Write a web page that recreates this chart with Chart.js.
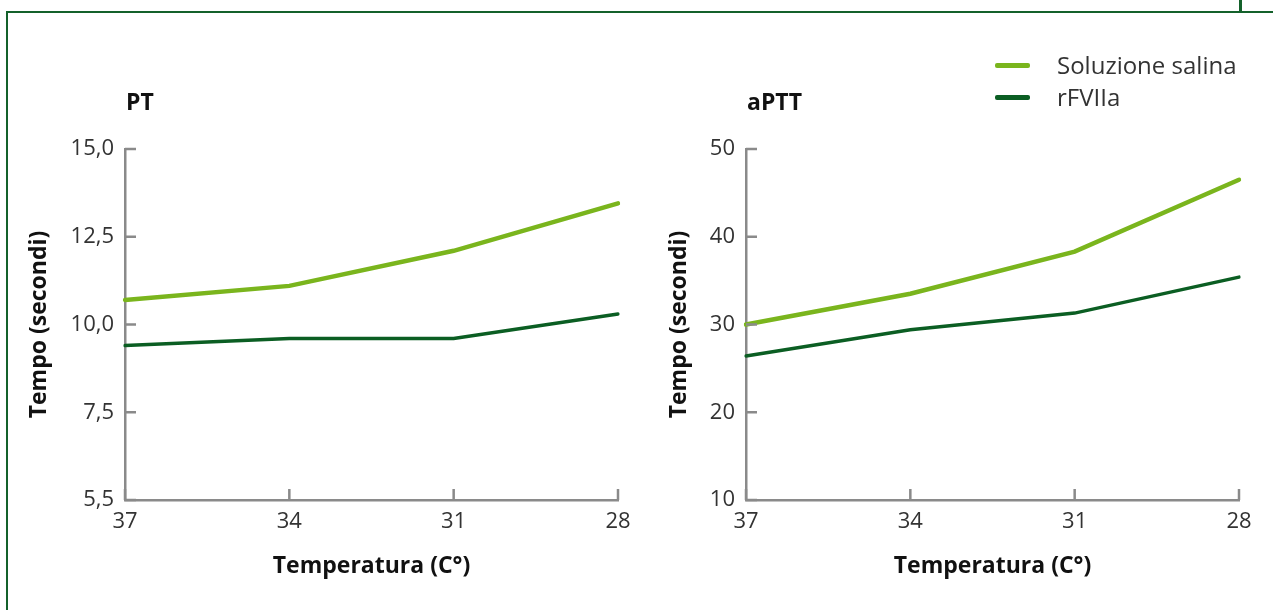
<!DOCTYPE html>
<html>
<head>
<meta charset="utf-8">
<script src="https://cdn.jsdelivr.net/npm/chart.js@4.4.1/dist/chart.umd.min.js"></script>
<style>
  html, body { margin: 0; padding: 0; background: #fff; }
  body { width: 1273px; height: 610px; position: relative; overflow: hidden; font-family: "Open Sans", sans-serif; }
  #frame { position: absolute; left: 6px; top: 11px; width: 1300px; height: 700px; border-left: 2px solid #14612b; border-top: 2px solid #14612b; }
  #tab { position: absolute; left: 1239px; top: 0; width: 3px; height: 13px; background: #14612b; }
  #c1wrap { position: absolute; left: 0; top: 0; width: 640px; height: 610px; }
  #c2wrap { position: absolute; left: 640px; top: 0; width: 633px; height: 610px; }
  #legend { position: absolute; left: 995px; top: 48px; }
  .item { position: relative; height: 32px; }
  .swatch { position: absolute; left: 0; top: 15px; width: 35px; height: 5px; border-radius: 2px; }
  .lbl { position: absolute; left: 62px; top: -1px; font-size: 24px; color: #333; white-space: nowrap; line-height: 36px; }
</style>
</head>
<body>
<div id="frame"></div>
<div id="tab"></div>
<div id="c1wrap"><canvas id="c1"></canvas></div>
<div id="c2wrap"><canvas id="c2"></canvas></div>
<div id="legend"></div>
<script>
const categories = ["37", "34", "31", "28"];
const seriesNames = ["Soluzione salina", "rFVIIa"];
const seriesColors = ["#7ab51d", "#0b5e23"];
const ptSaline = [10.7, 11.1, 12.1, 13.45];
const ptRfviia = [9.4, 9.6, 9.6, 10.3];
const apttSaline = [30, 33.5, 38.3, 46.5];
const apttRfviia = [26.4, 29.4, 31.3, 35.4];
const ptTicks = [5, 7.5, 10, 12.5, 15];
const ptTickLabels = ["5,5", "7,5", "10,0", "12,5", "15,0"];
const apttTicks = [10, 20, 30, 40, 50];
const apttTickLabels = ["10", "20", "30", "40", "50"];
const panelTitles = ["PT", "aPTT"];
const xTitle = "Temperatura (C°)";
const yTitle = "Tempo (secondi)";

const AXIS = "#8a8a8a";
const FONT = "'Open Sans', sans-serif";

// legend
const lg = document.getElementById('legend');
seriesNames.forEach((n, i) => {
  const d = document.createElement('div'); d.className = 'item';
  d.innerHTML = '<div class="swatch" style="background:' + seriesColors[i] + '"></div><div class="lbl">' + n + '</div>';
  lg.appendChild(d);
});

const innerTicks = {
  id: 'innerTicks',
  afterDraw(chart, args, opts) {
    const ctx = chart.ctx;
    const x = chart.scales.x, y = chart.scales.y;
    const a = chart.chartArea;
    ctx.save();
    ctx.strokeStyle = AXIS;
    ctx.lineWidth = 2.5;
    ctx.beginPath();
    y.ticks.forEach(t => {
      const py = y.getPixelForValue(t.value);
      ctx.moveTo(a.left, py); ctx.lineTo(a.left + 11, py);
    });
    x.ticks.forEach((t, i) => {
      const px = x.getPixelForValue(i);
      ctx.moveTo(px, a.bottom); ctx.lineTo(px, a.bottom - 11);
    });
    ctx.stroke();
    // panel title
    ctx.fillStyle = "#111";
    ctx.font = "bold 23px " + FONT;
    ctx.textBaseline = "middle";
    ctx.textAlign = "left";
    ctx.fillText(opts.text, a.left + 1, 103);
    ctx.restore();
  }
};

function makeChart(id, title, s1, s2, ticks, tickLabels, min, max, yWidth, padRight) {
  return new Chart(document.getElementById(id), {
    type: 'line',
    data: {
      labels: categories,
      datasets: [
        { label: seriesNames[0], data: s1, borderColor: seriesColors[0], backgroundColor: seriesColors[0], borderWidth: 4.5, pointRadius: 0, tension: 0, borderCapStyle: 'round' },
        { label: seriesNames[1], data: s2, borderColor: seriesColors[1], backgroundColor: seriesColors[1], borderWidth: 3.5, pointRadius: 0, tension: 0, borderCapStyle: 'round' }
      ]
    },
    options: {
      responsive: true,
      maintainAspectRatio: false,
      animation: false,
      layout: { padding: { left: 26, right: padRight, top: 149, bottom: 30 } },
      plugins: { legend: { display: false }, tooltip: { enabled: false }, innerTicks: { text: title } },
      scales: {
        x: {
          type: 'category',
          offset: false,
          grid: { display: false, drawTicks: false },
          border: { display: true, color: AXIS, width: 2.5 },
          ticks: { color: "#333", font: { family: FONT, size: 22 }, padding: 9, maxRotation: 0, autoSkip: false },
          title: { display: true, text: xTitle, color: "#111", font: { family: FONT, size: 23, weight: 'bold' }, padding: 0 },
          afterFit(s) { s.height = 80; }
        },
        y: {
          min: min, max: max,
          grid: { display: false, drawTicks: false },
          border: { display: true, color: AXIS, width: 2.5 },
          afterBuildTicks(s) { s.ticks = ticks.map(v => ({ value: v })); },
          ticks: {
            color: "#333", font: { family: FONT, size: 22 }, padding: 11,
            callback: (v) => { const i = ticks.indexOf(v); return i >= 0 ? tickLabels[i] : ''; }
          },
          title: { display: true, text: yTitle, color: "#111", font: { family: FONT, size: 23, weight: 'bold' }, padding: 0 },
          afterFit(s) { s.width = yWidth; }
        }
      }
    },
    plugins: [innerTicks]
  });
}

makeChart('c1', panelTitles[0], ptSaline, ptRfviia, ptTicks, ptTickLabels, 5, 15, 99, 22);
makeChart('c2', panelTitles[1], apttSaline, apttRfviia, apttTicks, apttTickLabels, 10, 50, 80, 34);
</script>
</body>
</html>
